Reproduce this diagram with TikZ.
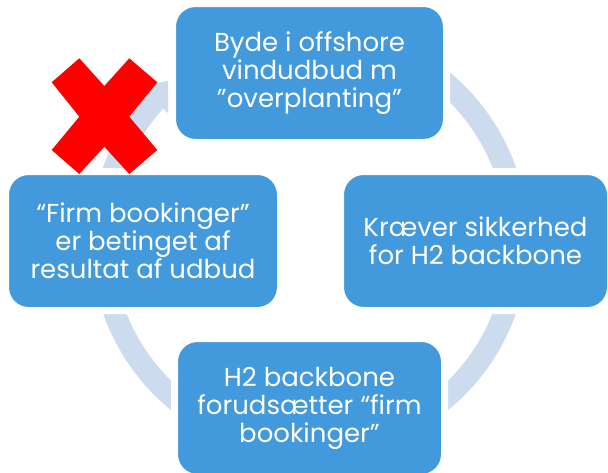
\documentclass[tikz,border=0pt]{standalone}
\usepackage{fontspec}
\setmainfont{Poppins}
\usetikzlibrary{calc}
\definecolor{boxblue}{HTML}{4299DB}
\definecolor{ringblue}{HTML}{CCDCEE}
\definecolor{xred}{HTML}{FF0000}
\begin{document}
\begin{tikzpicture}[x=1pt,y=-1pt,
  stepbox/.style={rectangle, rounded corners=23pt, fill=boxblue, draw=white,
    line width=7pt, text=white, align=center,
    font=\fontsize{26}{28}\selectfont, inner sep=0pt,
    minimum height=139pt},
  ringband/.style={draw=ringblue, line width=22pt}]
\useasboundingbox (0,0) rectangle (608,472);
\coordinate (c) at (309.5,240.5);
% ring band
\draw[ringband] (c) ++(232:208) arc[start angle=232, end angle=582, radius=208];
% arrow head (partly cut before the top box)
\coordinate (hb1) at ($(c)+(222:230)$);
\coordinate (hb2) at ($(c)+(222:188)$);
\coordinate (ht) at ($(c)+(231:208)$);
\begin{scope}
  \clip (0,0) rectangle (168,472);
  \fill[ringblue] (hb1) -- (ht) -- (hb2) -- cycle;
\end{scope}
% boxes
\node[stepbox, minimum width=274pt] (top) at (309.5,73)
  {Byde i offshore\\vindudbud m\\”overplanting”};
\node[stepbox, minimum width=270pt] (right) at (475.5,241)
  {Kræver sikkerhed\\for H2 backbone};
\node[stepbox, minimum width=270pt] (bottom) at (309.5,408)
  {H2 backbone\\forudsætter “firm\\bookinger”};
\node[stepbox, minimum width=275pt] (left) at (143,241)
  {“Firm bookinger”\\er betinget af\\resultat af udbud};
% red cross
\fill[xred] (51.7,82.3) -- (79.3,58.3) -- (104.3,86) -- (129.3,58.3)
  -- (157.3,82.3) -- (129.3,116.7) -- (157.3,150) -- (129.3,174)
  -- (104.3,146.7) -- (79.3,174) -- (51.7,150) -- (79.3,116.7) -- cycle;
\end{tikzpicture}
\end{document}
